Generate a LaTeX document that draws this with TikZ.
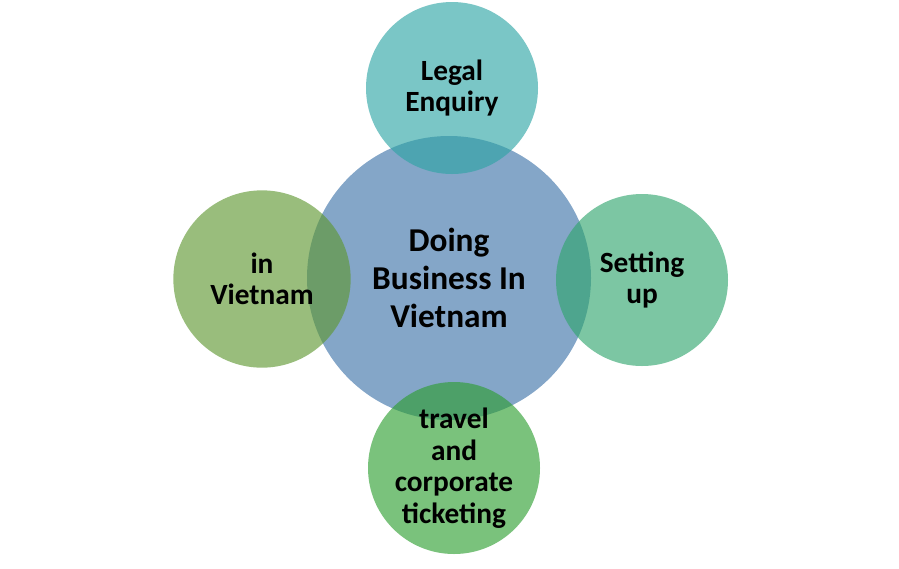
\documentclass[tikz,border=0pt]{standalone}
\usepackage{fontspec}
\setmainfont{Carlito}
\usepackage{tikz}
\usetikzlibrary{positioning}
\definecolor{hubblue}{RGB}{132,166,200}
\definecolor{legalteal}{RGB}{45,164,164}
\definecolor{countrygreen}{RGB}{94,151,48}
\definecolor{setupgreen}{RGB}{48,165,109}
\definecolor{travelgreen}{RGB}{45,158,48}
\tikzset{
  topic/.style={circle,inner sep=0pt,align=center,minimum size=#1},
  hub/.style={topic=213pt,fill=hubblue,font=\fontsize{25}{28.2}\selectfont\bfseries},
  spoke/.style={topic=129pt,fill=#1,fill opacity=0.63,text opacity=1,
    font=\fontsize{22}{23.7}\selectfont\bfseries},
}
\begin{document}
\begin{tikzpicture}[x=0.75pt,y=-0.75pt]
\useasboundingbox (0,0) rectangle (899,568);
% centre first, the four topics on top of it
\node[hub] (hub) at (449,278) {Doing\\Business In\\Vietnam};
\node[spoke=legalteal] (legal) at (452,88) {Legal\\Enquiry};
\node[spoke=countrygreen,minimum size=133pt] (country) at (262,279) {in\\Vietnam};
\node[spoke=setupgreen] (setup) at (642,280) {Setting\\up};
\node[spoke=travelgreen] (travel) at (454,468) {travel\\and\\corporate\\ticketing};
\end{tikzpicture}
\end{document}
